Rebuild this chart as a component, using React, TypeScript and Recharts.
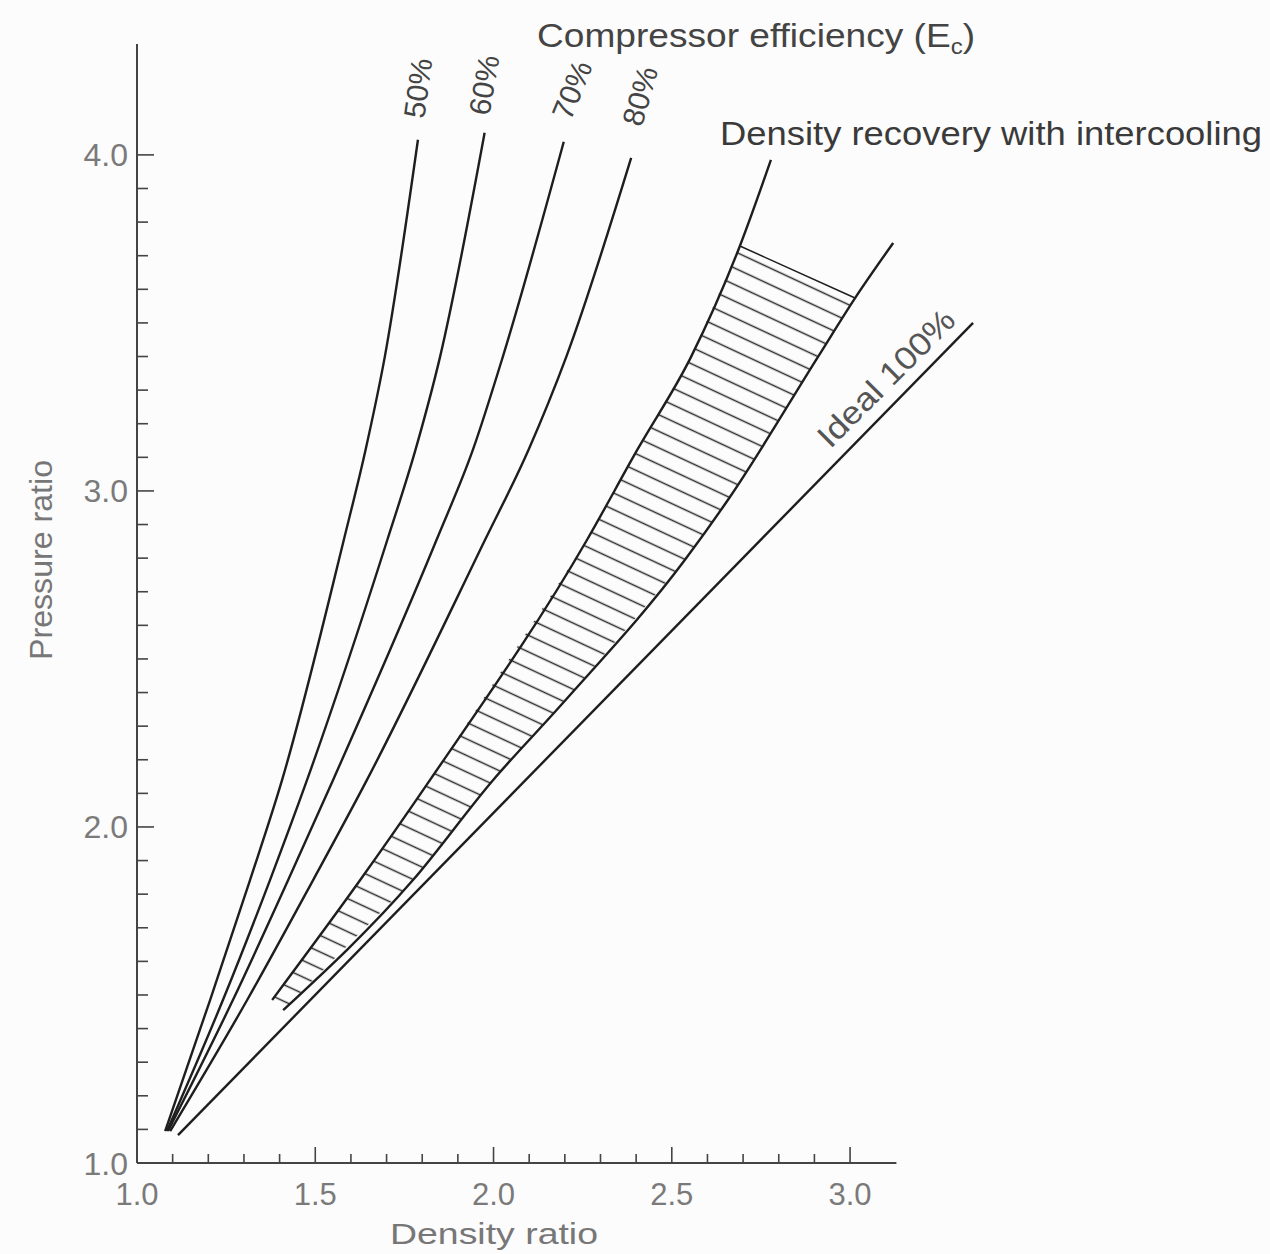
import React from 'react';
import { ComposedChart, Line, Area, XAxis, YAxis, ReferenceLine } from 'recharts';

// axis ticks (minor every 0.1, labels on the majors)
const X_TICKS = [1.0, 1.1, 1.2, 1.3, 1.4, 1.5, 1.6, 1.7, 1.8, 1.9, 2.0, 2.1, 2.2, 2.3, 2.4, 2.5, 2.6, 2.7, 2.8, 2.9, 3.0];
const X_MAJOR = [1.0, 1.5, 2.0, 2.5, 3.0];
const Y_TICKS = [
  1.0, 1.1, 1.2, 1.3, 1.4, 1.5, 1.6, 1.7, 1.8, 1.9,
  2.0, 2.1, 2.2, 2.3, 2.4, 2.5, 2.6, 2.7, 2.8, 2.9,
  3.0, 3.1, 3.2, 3.3, 3.4, 3.5, 3.6, 3.7, 3.8, 3.9, 4.0,
];
const Y_MAJOR = [1.0, 2.0, 3.0, 4.0];

// compressor efficiency curves (density ratio x, pressure ratio y)
const eff50 = [
  { x: 1.079, y: 1.095 }, { x: 1.205, y: 1.485 }, { x: 1.317, y: 1.842 }, { x: 1.407, y: 2.14 },
  { x: 1.58, y: 2.854 }, { x: 1.641, y: 3.122 }, { x: 1.695, y: 3.399 }, { x: 1.788, y: 4.045 },
];
const eff60 = [
  { x: 1.084, y: 1.095 }, { x: 1.241, y: 1.485 }, { x: 1.373, y: 1.842 }, { x: 1.477, y: 2.14 },
  { x: 1.702, y: 2.854 }, { x: 1.781, y: 3.122 }, { x: 1.85, y: 3.399 }, { x: 1.975, y: 4.066 },
];
const eff70 = [
  { x: 1.087, y: 1.095 }, { x: 1.269, y: 1.485 }, { x: 1.424, y: 1.842 }, { x: 1.55, y: 2.14 },
  { x: 1.84, y: 2.854 }, { x: 1.942, y: 3.122 }, { x: 2.026, y: 3.399 }, { x: 2.197, y: 4.039 },
];
const eff80 = [
  { x: 1.093, y: 1.095 }, { x: 1.309, y: 1.485 }, { x: 1.494, y: 1.842 }, { x: 1.645, y: 2.14 },
  { x: 1.976, y: 2.854 }, { x: 2.098, y: 3.122 }, { x: 2.204, y: 3.399 }, { x: 2.386, y: 3.991 },
];

// density recovery with intercooling: left edge, right edge, hatched band between
const recoveryLeft = [
  { x: 1.379, y: 1.485 }, { x: 1.626, y: 1.842 }, { x: 1.822, y: 2.14 }, { x: 2.262, y: 2.854 },
  { x: 2.403, y: 3.122 }, { x: 2.554, y: 3.399 }, { x: 2.691, y: 3.729 }, { x: 2.778, y: 3.985 },
];
const recoveryRight = [
  { x: 1.41, y: 1.455 }, { x: 1.774, y: 1.842 }, { x: 1.999, y: 2.14 }, { x: 2.187, y: 2.36 },
  { x: 2.537, y: 2.795 }, { x: 2.663, y: 2.982 }, { x: 2.91, y: 3.399 }, { x: 3.014, y: 3.574 },
  { x: 3.121, y: 3.738 },
];
const recoveryCap = [{ x: 2.691, y: 3.729 }, { x: 3.014, y: 3.574 }];
const recoveryBand = [
  { x: 1.379, band: [1.485, 1.485] }, { x: 1.41, band: [1.455, 1.53] },
  { x: 1.626, band: [1.685, 1.842] }, { x: 1.774, band: [1.842, 2.067] },
  { x: 1.822, band: [1.906, 2.14] }, { x: 1.999, band: [2.14, 2.427] },
  { x: 2.187, band: [2.36, 2.732] }, { x: 2.262, band: [2.453, 2.854] },
  { x: 2.403, band: [2.628, 3.122] }, { x: 2.537, band: [2.795, 3.368] },
  { x: 2.554, band: [2.82, 3.399] }, { x: 2.663, band: [2.982, 3.662] },
  { x: 2.691, band: [3.029, 3.729] }, { x: 2.86, band: [3.315, 3.65] },
  { x: 2.91, band: [3.399, 3.625] }, { x: 3.014, band: [3.574, 3.574] },
];

// ideal (100%) line
const ideal = [{ x: 1.115, y: 1.083 }, { x: 3.345, y: 3.5 }];

const FONT = '"Liberation Sans", Arial, Helvetica, sans-serif';
const INK = '#1e1e1e';

const XTick = ({ x, y, payload }: any) => {
  const v = payload.value;
  const major = X_MAJOR.includes(v);
  return (
    <g>
      <line x1={x} y1={y} x2={x} y2={y - (major ? 16 : 9)} stroke="#444" strokeWidth={1.6} />
      {major && (
        <text x={x} y={y + 42} textAnchor="middle" fontSize={31} fill="#7a7a7a" fontFamily={FONT}>
          {v.toFixed(1)}
        </text>
      )}
    </g>
  );
};

const YTick = ({ x, y, payload }: any) => {
  const v = payload.value;
  const major = Y_MAJOR.includes(v);
  return (
    <g>
      <line x1={x} y1={y} x2={x + (major ? 17 : 11)} y2={y} stroke="#444" strokeWidth={1.6} />
      {major && (
        <text x={x - 9} y={y} dy="0.36em" textAnchor="end" fontSize={32} fill="#7a7a7a" fontFamily={FONT}>
          {v.toFixed(1)}
        </text>
      )}
    </g>
  );
};

const curve = (data: any[], key: string, type: any = 'monotone', width = 2.4) => (
  <Line
    key={key}
    data={data}
    dataKey="y"
    type={type}
    stroke={INK}
    strokeWidth={width}
    dot={false}
    activeDot={false}
    isAnimationActive={false}
  />
);

export default function App() {
  return (
    <div style={{ position: 'absolute', left: 0, top: 0, width: 1270, height: 1254, background: '#fcfcfc', fontFamily: FONT }}>
      <svg width={0} height={0} style={{ position: 'absolute' }}>
        <defs>
          <pattern id="hatch" patternUnits="userSpaceOnUse" width={40} height={15} patternTransform="rotate(25)">
            <line x1={0} y1={7.5} x2={40} y2={7.5} stroke="#2a2a2a" strokeWidth={1.5} />
          </pattern>
        </defs>
      </svg>

      <ComposedChart width={1270} height={1254} margin={{ top: 44, right: 259.5, left: 77, bottom: 31 }}>
        <XAxis
          type="number"
          dataKey="x"
          domain={[1, 3.45]}
          ticks={X_TICKS}
          interval={0}
          axisLine={false}
          tickLine={false}
          tickSize={0}
          tickMargin={0}
          tick={<XTick />}
          height={60}
          allowDataOverflow
        />
        <YAxis
          type="number"
          domain={[1, 4.33]}
          ticks={Y_TICKS}
          interval={0}
          axisLine={{ stroke: '#444', strokeWidth: 2 }}
          tickLine={false}
          tickSize={0}
          tickMargin={0}
          tick={<YTick />}
          width={60}
          allowDataOverflow
        />
        <ReferenceLine segment={[{ x: 1, y: 1 }, { x: 3.13, y: 1 }]} stroke="#444" strokeWidth={2} />
        <Area
          data={recoveryBand}
          dataKey="band"
          type="linear"
          fill="url(#hatch)"
          fillOpacity={1}
          stroke="none"
          dot={false}
          activeDot={false}
          isAnimationActive={false}
        />
        {curve(recoveryCap, 'cap', 'linear', 1.5)}
        {curve(eff50, 'e50')}
        {curve(eff60, 'e60')}
        {curve(eff70, 'e70')}
        {curve(eff80, 'e80')}
        {curve(recoveryLeft, 'rl')}
        {curve(recoveryRight, 'rr')}
        {curve(ideal, 'ideal', 'linear')}
      </ComposedChart>

      <svg width={1270} height={1254} style={{ position: 'absolute', left: 0, top: 0, pointerEvents: 'none' }} fontFamily={FONT}>
        <text x={537} y={47} fontSize={34} fill="#444" textLength={438} lengthAdjust="spacingAndGlyphs">
          Compressor efficiency (E<tspan fontSize={22} dy={7}>c</tspan><tspan dy={-7}>)</tspan>
        </text>
        <text x={720} y={145} fontSize={34} fill="#3a3a3a" textLength={542} lengthAdjust="spacingAndGlyphs">
          Density recovery with intercooling
        </text>
        <text transform="translate(418,88) rotate(-82)" textAnchor="middle" dominantBaseline="central" fontSize={30} fill="#444">50%</text>
        <text transform="translate(484,85) rotate(-80)" textAnchor="middle" dominantBaseline="central" fontSize={30} fill="#444">60%</text>
        <text transform="translate(572,90) rotate(-68)" textAnchor="middle" dominantBaseline="central" fontSize={30} fill="#444">70%</text>
        <text transform="translate(640,96) rotate(-74)" textAnchor="middle" dominantBaseline="central" fontSize={30} fill="#444">80%</text>
        <text transform="translate(886,378) rotate(-45)" textAnchor="middle" dominantBaseline="central" fontSize={32} fill="#555" textLength={180} lengthAdjust="spacingAndGlyphs">
          Ideal 100%
        </text>
        <text transform="translate(41,560) rotate(-90)" textAnchor="middle" dominantBaseline="central" fontSize={32} fill="#777" textLength={200} lengthAdjust="spacingAndGlyphs">
          Pressure ratio
        </text>
        <text x={494} y={1244} textAnchor="middle" fontSize={30} fill="#777" textLength={208} lengthAdjust="spacingAndGlyphs">
          Density ratio
        </text>
      </svg>
    </div>
  );
}
